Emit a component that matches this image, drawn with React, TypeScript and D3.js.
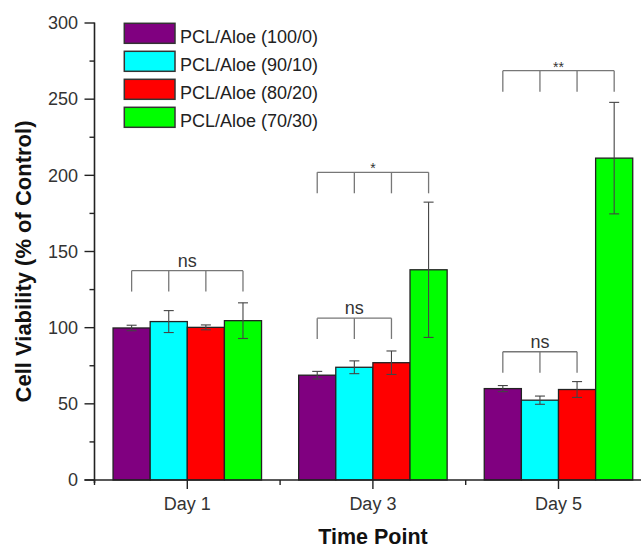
import React, { useRef, useEffect } from 'react';
import * as d3 from 'd3';

// time points and their labels
const days = [1, 3, 5];
const dayLabels = ['Day 1', 'Day 3', 'Day 5'];
const minorDays = [0, 2, 4, 6];

// groups
const seriesNames = ['PCL/Aloe (100/0)', 'PCL/Aloe (90/10)', 'PCL/Aloe (80/20)', 'PCL/Aloe (70/30)'];
const seriesColors = ['#800080', '#00ffff', '#ff0000', '#00ff00'];

// cell viability (% of control), one value per day
const pcl100 = [99.8, 68.8, 60.0];
const pcl90 = [104.0, 74.0, 52.4];
const pcl80 = [100.2, 77.0, 59.4];
const pcl70 = [104.6, 138.0, 211.3];

// error bars (+/-)
const err100 = [1.8, 2.5, 2.0];
const err90 = [7.2, 4.2, 2.7];
const err80 = [1.6, 7.7, 5.2];
const err70 = [11.7, 44.4, 36.6];

const yTicks = [0, 50, 100, 150, 200, 250, 300];
const yMinorTicks = [25, 75, 125, 175, 225, 275];

// significance brackets
const bracketDay = [1, 3, 3, 5, 5];
const bracketFrom = [0, 0, 0, 0, 0];
const bracketTo = [3, 3, 2, 3, 2];
const bracketTop = [137.4, 202, 106.2, 268.7, 84.2];
const bracketLeg = [123.7, 188.2, 92.6, 254.9, 70.4];
const bracketLabel = ['ns', '*', 'ns', '**', 'ns'];

const W = 641;
const H = 549;
const FONT = '"Liberation Sans", Arial, sans-serif';

const Chart = () => {
  const svgRef = useRef<SVGSVGElement>(null);

  useEffect(() => {
    const svg = d3.select(svgRef.current);
    svg.selectAll('*').remove();

    const means = [pcl100, pcl90, pcl80, pcl70];
    const errs = [err100, err90, err80, err70];

    const x = d3.scaleLinear().domain([0, 6]).range([94.5, 651.3]);
    const y = d3.scaleLinear().domain([0, 300]).range([480, 23]);

    const barW = (x(1) - x(0)) * 0.4;
    const inner = d3.scaleBand<number>()
      .domain(d3.range(seriesNames.length))
      .range([-2 * barW, 2 * barW])
      .padding(0);

    const barCenter = (day: number, s: number) => x(day) + (inner(s) as number) + inner.bandwidth() / 2;

    // bars
    seriesNames.forEach((_, s) => {
      svg.append('g')
        .selectAll('rect')
        .data(days)
        .join('rect')
        .attr('x', (d) => x(d) + (inner(s) as number))
        .attr('y', (d, i) => y(means[s][i]))
        .attr('width', inner.bandwidth())
        .attr('height', (d, i) => y(0) - y(means[s][i]))
        .attr('fill', seriesColors[s])
        .attr('stroke', '#222')
        .attr('stroke-width', 1.3);
    });

    // error bars
    seriesNames.forEach((_, s) => {
      const g = svg.append('g').attr('stroke', '#444').attr('stroke-width', 1.1).attr('fill', 'none');
      days.forEach((d, i) => {
        const cx = barCenter(d, s);
        const hi = y(means[s][i] + errs[s][i]);
        const lo = y(means[s][i] - errs[s][i]);
        g.append('line').attr('x1', cx).attr('x2', cx).attr('y1', hi).attr('y2', lo);
        g.append('line').attr('x1', cx - 5).attr('x2', cx + 5).attr('y1', hi).attr('y2', hi);
        g.append('line').attr('x1', cx - 5).attr('x2', cx + 5).attr('y1', lo).attr('y2', lo);
      });
    });

    // significance brackets
    bracketDay.forEach((d, b) => {
      const g = svg.append('g');
      const x1 = barCenter(d, bracketFrom[b]);
      const x2 = barCenter(d, bracketTo[b]);
      const yt = y(bracketTop[b]);
      g.append('line')
        .attr('x1', x1).attr('x2', x2).attr('y1', yt).attr('y2', yt)
        .attr('stroke', '#777').attr('stroke-width', 1.3);
      d3.range(bracketFrom[b], bracketTo[b] + 1).forEach((s) => {
        const cx = barCenter(d, s);
        g.append('line')
          .attr('x1', cx).attr('x2', cx).attr('y1', yt).attr('y2', y(bracketLeg[b]))
          .attr('stroke', '#777').attr('stroke-width', 1.3);
      });
      const isStar = bracketLabel[b].startsWith('*');
      g.append('text')
        .attr('x', (x1 + x2) / 2)
        .attr('y', isStar ? yt + 1 : yt - 4)
        .attr('text-anchor', 'middle')
        .attr('font-family', FONT)
        .attr('font-size', isStar ? 14 : 18)
        .attr('fill', '#333')
        .text(bracketLabel[b]);
    });

    // y axis
    const yAxis = svg.append('g').attr('font-family', FONT);
    yAxis.append('line')
      .attr('x1', x(0)).attr('x2', x(0)).attr('y1', y(300) - 0.5).attr('y2', y(0) + 3)
      .attr('stroke', '#222').attr('stroke-width', 1.6);
    yAxis.selectAll('.major')
      .data(yTicks)
      .join('line')
      .attr('x1', x(0) - 10).attr('x2', x(0))
      .attr('y1', (d) => y(d)).attr('y2', (d) => y(d))
      .attr('stroke', '#222').attr('stroke-width', 1.4);
    yAxis.selectAll('.minor')
      .data(yMinorTicks)
      .join('line')
      .attr('x1', x(0) - 5).attr('x2', x(0))
      .attr('y1', (d) => y(d)).attr('y2', (d) => y(d))
      .attr('stroke', '#222').attr('stroke-width', 1.4);
    yAxis.selectAll('text')
      .data(yTicks)
      .join('text')
      .attr('x', 78)
      .attr('y', (d) => y(d))
      .attr('dy', '0.35em')
      .attr('text-anchor', 'end')
      .attr('font-size', 18)
      .attr('fill', '#333')
      .text((d) => d);

    // x axis
    const xAxis = svg.append('g').attr('font-family', FONT);
    xAxis.append('line')
      .attr('x1', x(0) - 10).attr('x2', W).attr('y1', y(0)).attr('y2', y(0))
      .attr('stroke', '#222').attr('stroke-width', 1.6);
    xAxis.selectAll('.major')
      .data(days)
      .join('line')
      .attr('x1', (d) => x(d)).attr('x2', (d) => x(d))
      .attr('y1', y(0)).attr('y2', y(0) + 9)
      .attr('stroke', '#222').attr('stroke-width', 1.4);
    xAxis.selectAll('.minor')
      .data(minorDays)
      .join('line')
      .attr('x1', (d) => x(d)).attr('x2', (d) => x(d))
      .attr('y1', y(0)).attr('y2', y(0) + 5)
      .attr('stroke', '#222').attr('stroke-width', 1.4);
    xAxis.selectAll('text')
      .data(days)
      .join('text')
      .attr('x', (d) => x(d))
      .attr('y', 509.5)
      .attr('text-anchor', 'middle')
      .attr('font-size', 18)
      .attr('fill', '#333')
      .text((d, i) => dayLabels[i]);

    // axis titles
    svg.append('text')
      .attr('x', 373)
      .attr('y', 544)
      .attr('text-anchor', 'middle')
      .attr('font-family', FONT)
      .attr('font-size', 21.5)
      .attr('font-weight', 'bold')
      .attr('fill', '#111')
      .text('Time Point');
    svg.append('text')
      .attr('transform', 'translate(31,261.5) rotate(-90)')
      .attr('text-anchor', 'middle')
      .attr('font-family', FONT)
      .attr('font-size', 22)
      .attr('font-weight', 'bold')
      .attr('fill', '#111')
      .text('Cell Viability (% of Control)');

    // legend
    const legend = svg.append('g').attr('font-family', FONT);
    seriesNames.forEach((name, s) => {
      const top = 23.3 + s * 28;
      legend.append('rect')
        .attr('x', 124.3).attr('y', top)
        .attr('width', 50.7).attr('height', 20)
        .attr('fill', seriesColors[s])
        .attr('stroke', '#333').attr('stroke-width', 1.5);
      legend.append('text')
        .attr('x', 180).attr('y', top + 20)
        .attr('font-size', 18)
        .attr('fill', '#222')
        .text(name);
    });
  }, []);

  return (
    <svg
      ref={svgRef}
      width={W}
      height={H}
      style={{ position: 'absolute', left: 0, top: 0, background: '#fff', overflow: 'hidden' }}
    />
  );
};

export default function App() {
  return <Chart />;
}
